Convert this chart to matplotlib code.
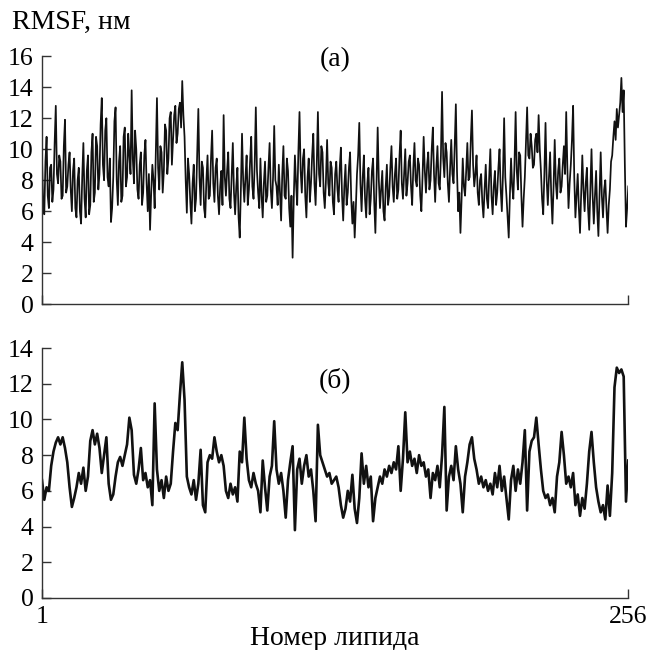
import numpy as np
import matplotlib
matplotlib.use("Agg")
import matplotlib.pyplot as plt

plt.rcParams['font.family'] = ['Liberation Serif', 'DejaVu Serif']

# RMSF, panel (a): two readings per lipid (step 0.5)
rmsf_a = [
    9.5, 6.4, 5.8, 9.2, 10.8, 7.0, 6.2, 8.8, 9.0, 6.6, 7.4, 10.4, 12.8, 8.4, 7.8, 9.6,
    9.2, 6.8, 7.0, 10.2, 11.9, 7.2, 7.6, 9.0, 9.8, 7.4, 6.0, 8.6, 9.4, 6.2, 5.6, 8.0,
    8.8, 6.0, 5.2, 8.2, 10.4, 6.8, 5.6, 8.6, 9.6, 5.8, 6.4, 9.8, 11.0, 6.6, 7.2, 10.8,
    10.2, 7.4, 8.4, 11.6, 13.3, 9.0, 8.0, 11.2, 12.0, 8.2, 7.6, 9.4, 5.3, 6.2, 8.2, 11.8,
    12.7, 8.0, 6.4, 9.2, 10.2, 6.6, 7.0, 10.8, 11.4, 7.6, 8.2, 11.0, 9.6, 8.4, 13.8, 9.4,
    7.8, 11.2, 10.0, 7.4, 6.8, 9.0, 9.8, 6.4, 7.2, 9.6, 10.6, 7.8, 6.0, 8.4, 4.8, 7.2,
    9.0, 8.0, 6.2, 9.6, 13.3, 8.8, 7.4, 10.2, 9.8, 7.2, 8.6, 11.6, 11.2, 8.4, 9.4, 12.0,
    12.4, 9.0, 10.6, 12.2, 12.8, 10.4, 11.0, 12.6, 13.0, 11.4, 14.4, 12.2, 10.8, 8.0, 5.9, 9.4,
    8.4, 6.6, 5.2, 7.8, 9.0, 6.0, 6.8, 9.8, 12.6, 8.2, 6.4, 9.2, 8.8, 6.2, 5.6, 8.0,
    9.6, 6.8, 7.0, 9.4, 11.2, 7.8, 6.6, 8.8, 9.4, 7.0, 5.8, 7.6, 8.6, 6.4, 12.2, 8.2,
    7.0, 8.6, 9.8, 6.8, 6.2, 8.4, 10.4, 7.2, 5.8, 7.6, 8.8, 5.6, 4.3, 7.4, 11.0, 8.0,
    6.6, 8.2, 9.6, 6.4, 7.4, 9.2, 10.8, 7.6, 6.8, 9.0, 12.7, 8.6, 7.2, 6.2, 9.4, 7.0,
    5.6, 7.8, 9.2, 6.6, 7.0, 8.8, 10.4, 7.4, 6.2, 8.2, 11.5, 8.0, 7.6, 6.4, 9.0, 7.2,
    5.4, 8.4, 10.2, 7.0, 6.8, 9.4, 8.6, 6.2, 5.0, 7.0, 3.0, 6.8, 9.6, 7.8, 6.4, 9.8,
    12.4, 8.6, 7.2, 9.4, 10.0, 7.0, 5.6, 8.2, 9.4, 6.6, 7.8, 9.6, 11.0, 7.8, 6.4, 9.0,
    12.4, 8.4, 7.6, 10.2, 9.8, 7.2, 6.2, 8.0, 10.6, 7.8, 7.0, 9.2, 8.8, 6.6, 5.8, 8.4,
    9.2, 7.4, 6.6, 8.8, 10.1, 7.0, 5.4, 7.6, 9.0, 6.4, 7.2, 8.8, 9.8, 6.8, 5.2, 6.6,
    4.3, 6.2, 8.4, 9.6, 11.7, 7.8, 6.0, 8.2, 9.6, 6.8, 5.6, 7.8, 8.8, 5.8, 6.8, 8.6,
    9.4, 6.6, 4.6, 7.8, 11.4, 8.0, 6.2, 7.4, 8.6, 6.0, 5.4, 7.6, 9.0, 6.4, 7.0, 8.8,
    10.2, 7.6, 6.6, 8.4, 9.4, 6.8, 7.4, 9.6, 11.2, 7.8, 6.8, 8.4, 10.0, 7.0, 7.8, 9.2,
    9.6, 7.6, 6.4, 8.8, 10.4, 8.0, 7.6, 9.4, 9.0, 7.0, 6.0, 8.2, 10.8, 8.6, 7.2, 9.0,
    9.8, 7.4, 8.0, 10.0, 11.4, 8.4, 6.6, 8.8, 10.2, 7.8, 7.4, 9.6, 13.7, 9.4, 8.2, 10.4,
    9.8, 7.8, 6.6, 8.8, 10.6, 8.4, 7.8, 10.2, 12.9, 8.6, 6.0, 7.2, 4.6, 6.8, 9.4, 7.6,
    7.0, 8.6, 10.4, 8.0, 8.2, 10.6, 12.5, 9.0, 7.6, 8.4, 9.6, 7.2, 6.4, 8.0, 8.4, 6.6,
    5.6, 7.4, 9.0, 6.8, 6.2, 8.2, 10.0, 7.0, 5.8, 7.6, 8.6, 6.4, 7.2, 8.8, 10.0, 7.4,
    6.0, 8.4, 12.0, 8.2, 7.0, 5.6, 4.3, 7.0, 9.4, 7.6, 6.8, 9.0, 12.4, 8.6, 7.4, 9.8,
    9.6, 7.0, 5.0, 6.8, 8.2, 10.4, 12.7, 9.6, 9.4, 11.0, 10.2, 8.8, 9.0, 10.6, 11.0, 9.8,
    12.2, 10.0, 8.6, 6.8, 5.8, 8.4, 11.7, 8.0, 6.4, 8.2, 9.8, 7.0, 5.2, 7.6, 10.6, 7.8,
    6.8, 8.6, 9.4, 7.2, 7.6, 9.0, 10.2, 8.4, 12.4, 8.8, 6.2, 7.8, 9.0, 10.6, 12.8, 8.2,
    5.6, 7.0, 8.4, 6.2, 4.6, 7.2, 9.6, 7.4, 6.0, 7.8, 8.8, 6.2, 4.8, 7.4, 10.0, 7.0,
    5.2, 7.0, 8.6, 6.0, 4.4, 7.2, 9.8, 7.0, 5.6, 7.4, 8.0, 6.2, 4.6, 6.4, 7.4, 9.2,
    9.6, 10.8, 11.8, 10.6, 12.6, 11.4, 12.2, 13.0, 14.6, 12.4, 13.8, 9.0, 5.0, 6.2, 7.6,
]

# RMSF per lipid, panel (б)
rmsf_b = [
    6.6, 5.5, 6.2, 6.0, 7.4, 8.2, 8.7, 9.0, 8.6, 9.0, 8.4, 7.6, 6.2, 5.1, 5.6, 6.2,
    7.0, 6.4, 7.3, 6.0, 6.8, 8.8, 9.4, 8.6, 9.2, 8.4, 7.0, 8.0, 9.0, 6.4, 5.5, 5.8,
    6.8, 7.6, 7.9, 7.4, 8.0, 8.6, 10.1, 9.4, 6.9, 6.4, 7.2, 8.4, 6.6, 7.0, 6.2, 6.6,
    5.2, 10.9, 7.2, 6.0, 6.6, 5.6, 6.8, 6.0, 6.4, 8.2, 9.8, 9.4, 11.4, 13.2, 11.1, 6.8,
    6.2, 5.8, 6.6, 5.5, 6.4, 8.3, 5.2, 4.8, 7.6, 8.0, 7.8, 9.0, 8.2, 7.6, 8.0, 7.4,
    6.0, 5.6, 6.4, 5.8, 6.2, 5.4, 8.2, 7.6, 10.1, 7.8, 6.6, 6.2, 7.0, 6.4, 6.0, 4.8,
    7.7, 6.2, 4.9, 6.8, 7.4, 9.9, 7.2, 6.4, 7.0, 6.0, 4.5, 6.6, 7.6, 8.5, 3.8, 7.2,
    7.8, 6.4, 7.4, 8.0, 6.8, 7.2, 6.0, 4.3, 9.7, 8.0, 7.6, 7.2, 6.8, 7.0, 6.4, 6.6,
    6.8, 6.2, 5.2, 4.5, 5.0, 6.0, 5.4, 6.9, 5.0, 4.2, 5.6, 8.1, 6.4, 7.4, 6.2, 6.8,
    4.3, 5.6, 6.2, 6.8, 6.4, 7.2, 6.8, 7.4, 7.0, 7.6, 7.2, 8.5, 6.0, 7.8, 10.4, 7.6,
    8.2, 7.4, 7.8, 7.0, 8.0, 7.4, 7.6, 6.8, 7.2, 5.6, 7.0, 6.6, 7.4, 6.2, 8.0, 10.7,
    4.9, 6.8, 7.4, 6.6, 8.5, 7.2, 6.4, 4.8, 6.8, 7.6, 8.6, 9.0, 7.8, 7.2, 6.4, 6.8,
    6.2, 6.6, 6.0, 6.4, 5.8, 7.0, 6.2, 7.4, 6.0, 6.8, 5.6, 4.4, 6.6, 7.4, 6.0, 7.2,
    6.4, 7.6, 9.4, 4.9, 8.2, 8.8, 9.0, 10.1, 8.6, 7.2, 6.0, 5.6, 5.8, 5.2, 5.6, 4.8,
    6.8, 7.6, 9.3, 8.0, 6.4, 6.8, 6.2, 7.0, 5.2, 5.8, 4.6, 5.6, 5.0, 6.4, 8.2, 9.3,
    7.6, 6.2, 5.4, 4.8, 5.2, 4.4, 6.3, 4.6, 7.0, 11.8, 12.9, 12.6, 12.8, 12.4, 5.4, 7.7,
]

x_a = np.linspace(1, 256, len(rmsf_a))
x_b = np.arange(1, len(rmsf_b) + 1)

fig = plt.figure(figsize=(6.5, 6.5), dpi=100)
ax1 = fig.add_axes([0.0646, 0.532, 0.902, 0.3815])
ax2 = fig.add_axes([0.0646, 0.080, 0.902, 0.3846])

fs_tick = 18.5
fs_lab = 20
for ax, x, y, ymax, lw in [(ax1, x_a, rmsf_a, 16, 1.25), (ax2, x_b, rmsf_b, 14, 1.9)]:
    ax.plot(x, y, color='#111111', lw=lw)
    ax.set_xlim(1, 256)
    ax.set_ylim(0, ymax)
    ax.set_yticks(range(0, ymax + 1, 2))
    ax.set_xticks([1, 256])
    for s in ['top', 'right']:
        ax.spines[s].set_visible(False)
    for s in ['left', 'bottom']:
        ax.spines[s].set_color('#333333')
        ax.spines[s].set_linewidth(1.0)
    ax.tick_params(direction='in', length=6.5, width=1.0, color='#333333',
                   labelsize=fs_tick, pad=6)

ax1.set_xticklabels([])
ax2.set_xticklabels(['1', '256'])

ax1.text(0.5, 0.985, '(a)', transform=ax1.transAxes, ha='center', va='center', fontsize=fs_lab)
ax2.text(0.5, 0.87, '(б)', transform=ax2.transAxes, ha='center', va='center', fontsize=fs_lab)

fig.text(0.018, 0.966, 'RMSF, нм', ha='left', va='center', fontsize=fs_lab)
fig.text(0.515, 0.0077, 'Номер липида', ha='center', va='baseline', fontsize=fs_lab)

fig.savefig('out.png', dpi=100)
